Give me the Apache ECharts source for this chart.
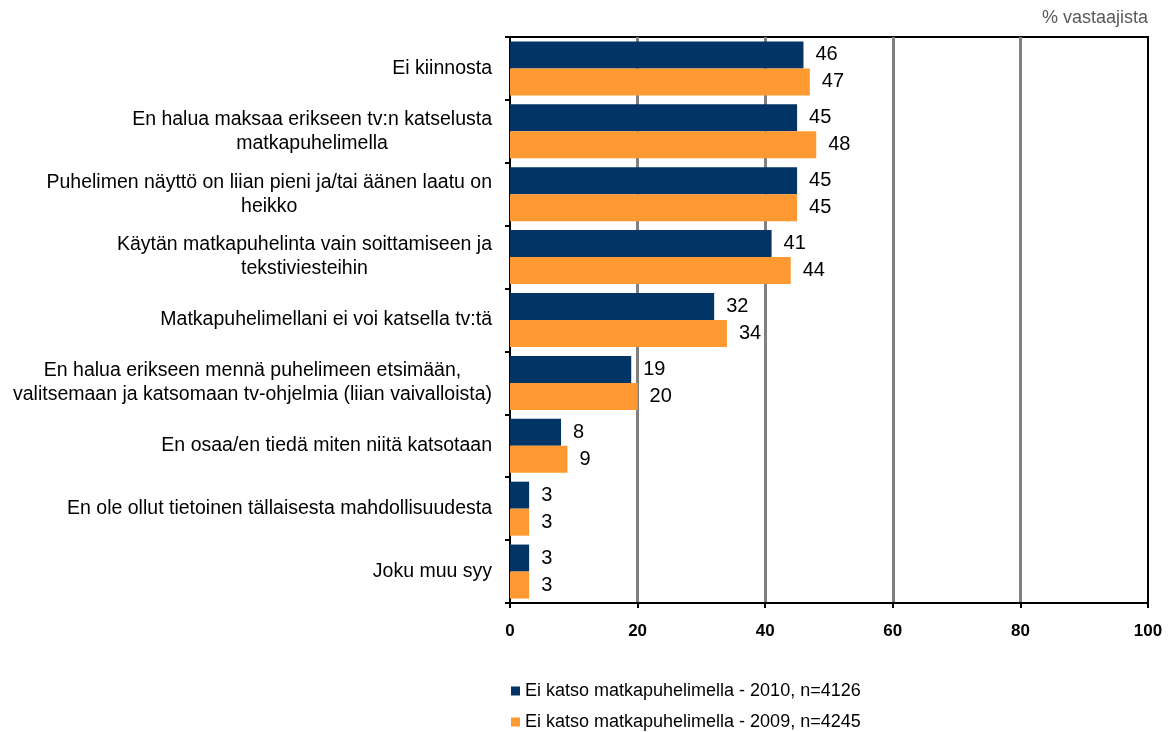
<!DOCTYPE html>
<html>
<head>
    <meta charset="utf-8" />
    <title></title>
    <script src="https://cdn.jsdelivr.net/npm/echarts@6/dist/echarts.min.js"></script>
    <style>
        body { margin: 0; background: #fff; }
    </style>
</head>
<body>
    <div id="main" style="width:1169px;height:732px;"></div>
    <script>
        // kategoriat ja arvot
        var categories = [
            'Ei kiinnosta',
            'En halua maksaa erikseen tv:n katselusta\nmatkapuhelimella',
            'Puhelimen näyttö on liian pieni ja/tai äänen laatu on\nheikko',
            'Käytän matkapuhelinta vain soittamiseen ja\ntekstiviesteihin',
            'Matkapuhelimellani ei voi katsella tv:tä',
            'En halua erikseen mennä puhelimeen etsimään,\nvalitsemaan ja katsomaan tv-ohjelmia (liian vaivalloista)',
            'En osaa/en tiedä miten niitä katsotaan',
            'En ole ollut tietoinen tällaisesta mahdollisuudesta',
            'Joku muu syy'
        ];
        var values2010 = [46, 45, 45, 41, 32, 19, 8, 3, 3];
        var values2009 = [47, 48, 45, 44, 34, 20, 9, 3, 3];
        var seriesNames = [
            'Ei katso matkapuhelimella - 2010, n=4126',
            'Ei katso matkapuhelimella - 2009, n=4245'
        ];
        var xTicks = [0, 20, 40, 60, 80, 100];

        var font = 'Liberation Sans, Arial, sans-serif';
        var valueLabel = {
            show: true,
            position: 'right',
            distance: 12,
            color: '#000',
            fontFamily: font,
            fontSize: 20
        };
        var legendText = { color: '#000', fontFamily: font, fontSize: 18 };

        var myChart = echarts.init(document.getElementById('main'));
        var option = {
            animation: false,
            backgroundColor: '#fff',
            title: {
                text: '% vastaajista',
                right: 16,
                top: 4,
                textStyle: { color: '#595959', fontFamily: font, fontSize: 18, fontWeight: 'normal' }
            },
            // kaksi selitettä allekkain
            legend: [{
                left: 506,
                top: 677,
                itemWidth: 9,
                itemHeight: 9,
                itemGap: 4,
                icon: 'rect',
                textStyle: legendText,
                data: [seriesNames[0]]
            }, {
                left: 506,
                top: 708,
                itemWidth: 9,
                itemHeight: 9,
                itemGap: 4,
                icon: 'rect',
                textStyle: legendText,
                data: [seriesNames[1]]
            }],
            grid: {
                left: 510,
                right: 21,
                top: 37,
                bottom: 129,
                show: true,
                borderColor: '#000',
                borderWidth: 2
            },
            xAxis: {
                type: 'value',
                min: xTicks[0],
                max: xTicks[xTicks.length - 1],
                interval: 20,
                axisLine: { show: true, lineStyle: { color: '#000', width: 2 } },
                axisTick: { show: true, length: 5, lineStyle: { color: '#000', width: 2 } },
                axisLabel: { margin: 20, color: '#000', fontFamily: font, fontSize: 17, fontWeight: 'bold' },
                splitLine: { show: true, showMinLine: false, showMaxLine: false, lineStyle: { color: '#808080', width: 3 } }
            },
            yAxis: {
                type: 'category',
                inverse: true,
                data: categories,
                axisLine: { show: true, lineStyle: { color: '#000', width: 2 } },
                axisTick: { show: true, length: 5, lineStyle: { color: '#000', width: 2 } },
                axisLabel: {
                    margin: 18,
                    lineHeight: 24,
                    formatter: function (v) {
                        return v.split('\n').map(function (s) { return '{c|' + s + '}'; }).join('\n');
                    },
                    rich: {
                        c: { align: 'center', color: '#000', fontFamily: font, fontSize: 19.5, lineHeight: 24 }
                    }
                }
            },
            series: [{
                name: seriesNames[0],
                type: 'bar',
                data: values2010,
                barWidth: 27,
                barGap: '0%',
                itemStyle: { color: '#023466' },
                label: valueLabel
            }, {
                name: seriesNames[1],
                type: 'bar',
                data: values2009,
                barWidth: 27,
                barGap: '0%',
                itemStyle: { color: '#FF9A33' },
                label: valueLabel
            }]
        };
        myChart.setOption(option);
    </script>
</body>
</html>
